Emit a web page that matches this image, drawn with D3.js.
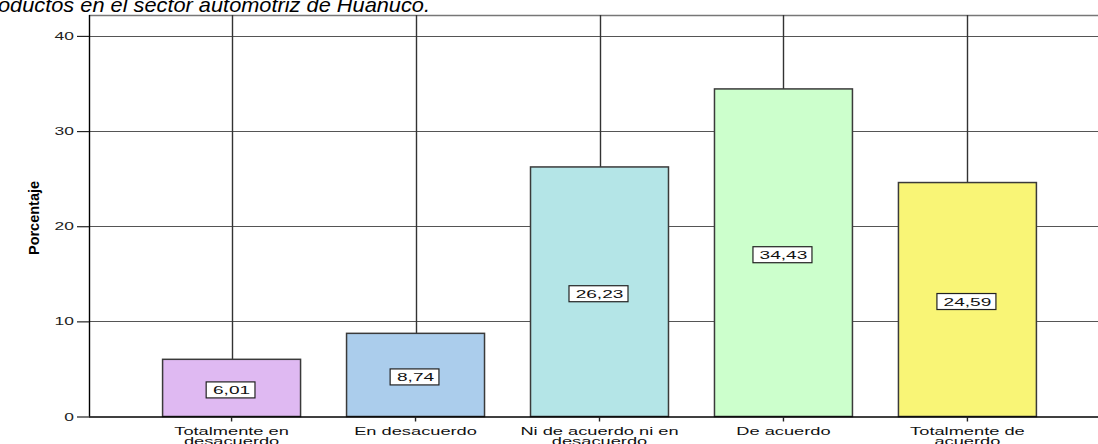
<!DOCTYPE html>
<html>
<head>
<meta charset="utf-8">
<script src="https://cdn.jsdelivr.net/npm/d3@7"></script>
<style>
  html, body { margin: 0; padding: 0; background: #fff; }
  svg { display: block; }
  text { font-family: "Liberation Sans", Arial, sans-serif; }
</style>
</head>
<body>
<svg id="chart" width="1098" height="444"></svg>
<script>
// Response categories (two-line labels) and percentages
const categories = [
  ["Totalmente en", "desacuerdo"],
  ["En desacuerdo"],
  ["Ni de acuerdo ni en", "desacuerdo"],
  ["De acuerdo"],
  ["Totalmente de", "acuerdo"]
];
const percentages = [6.01, 8.74, 26.23, 34.43, 24.59];
const valueLabels = ["6,01", "8,74", "26,23", "34,43", "24,59"];
const barColors = ["#dfb9f2", "#abcdec", "#b4e5e7", "#ccffcc", "#f9f576"];
const yTicks = [0, 10, 20, 30, 40];
const yTitle = "Porcentaje";
const caption = "oductos en el sector automotriz de Huánuco.";

const svg = d3.select("#chart");
const W = 1098, H = 444;
const plotLeft = 89, plotTop = 15, plotBottom = 416.5, plotRight = 1110;
const SX = 1.66; // horizontal stretch of the chart's lettering

const keys = categories.map((c, i) => i);
const x = d3.scaleBand().domain(keys).range([plotLeft, plotRight])
  .paddingInner(0.25).paddingOuter(0.4);
const y = d3.scaleLinear().domain([0, 42.2]).range([plotBottom, plotTop]);

// caption line above the plot
svg.append("text")
  .attr("x", -2).attr("y", 12)
  .attr("font-size", 21).attr("font-style", "italic")
  .attr("fill", "#000")
  .attr("textLength", 432).attr("lengthAdjust", "spacingAndGlyphs")
  .text(caption);

const plot = svg.append("g");

// horizontal gridlines
plot.selectAll("line.hgrid").data(yTicks.filter(t => t > 0)).join("line")
  .attr("class", "hgrid")
  .attr("x1", plotLeft).attr("x2", W)
  .attr("y1", d => Math.round(y(d)) + 0.5).attr("y2", d => Math.round(y(d)) + 0.5)
  .attr("stroke", "#555").attr("stroke-width", 1.2);

// top frame line
plot.append("line")
  .attr("x1", plotLeft).attr("x2", W)
  .attr("y1", plotTop + 0.5).attr("y2", plotTop + 0.5)
  .attr("stroke", "#777").attr("stroke-width", 1.4);

// vertical gridlines at category centres
plot.selectAll("line.vgrid").data(keys).join("line")
  .attr("class", "vgrid")
  .attr("x1", d => Math.round(x(d) + x.bandwidth() / 2) + 0.5)
  .attr("x2", d => Math.round(x(d) + x.bandwidth() / 2) + 0.5)
  .attr("y1", plotTop).attr("y2", plotBottom)
  .attr("stroke", "#333").attr("stroke-width", 1.4);

// bars
plot.selectAll("rect.bar").data(keys).join("rect")
  .attr("class", "bar")
  .attr("x", d => x(d))
  .attr("y", d => y(percentages[d]))
  .attr("width", x.bandwidth())
  .attr("height", d => plotBottom - y(percentages[d]))
  .attr("fill", d => barColors[d])
  .attr("stroke", "#3a3a3a").attr("stroke-width", 1.5);

// axes
const xAxisG = svg.append("g").attr("transform", `translate(0,${plotBottom})`)
  .call(d3.axisBottom(x).tickSize(5).tickFormat(""));
xAxisG.select(".domain").attr("d", `M${plotLeft},0.5H${W}`).attr("stroke", "#000").attr("stroke-width", 1.4);
xAxisG.selectAll(".tick line").attr("stroke", "#222").attr("stroke-width", 1.4);

const yAxisG = svg.append("g").attr("transform", `translate(${plotLeft},0)`)
  .call(d3.axisLeft(y).tickValues(yTicks).tickSize(12).tickFormat(""));
yAxisG.select(".domain").attr("d", `M0.5,${plotTop}V${plotBottom}`).attr("stroke", "#000").attr("stroke-width", 1.4);
yAxisG.selectAll(".tick line").attr("stroke", "#222").attr("stroke-width", 1.2);

// y tick labels (stretched lettering)
svg.selectAll("text.ytl").data(yTicks).join("text")
  .attr("class", "ytl")
  .attr("transform", d => `translate(74,${y(d) + 4}) scale(${SX},1)`)
  .attr("text-anchor", "end")
  .attr("font-size", 10.5).attr("fill", "#222")
  .text(d => d);

// x category labels
const xl = svg.selectAll("g.xl").data(keys).join("g")
  .attr("class", "xl")
  .attr("transform", d => `translate(${x(d) + x.bandwidth() / 2},435) scale(${SX},1)`);
xl.selectAll("text").data(d => categories[d].map((s, j) => ({ s, j }))).join("text")
  .attr("text-anchor", "middle")
  .attr("y", d => d.j * 10.5)
  .attr("font-size", 11).attr("fill", "#111")
  .text(d => d.s);

// y axis title
svg.append("text")
  .attr("transform", `translate(39,218) rotate(-90)`)
  .attr("text-anchor", "middle")
  .attr("font-family", "'Liberation Sans Narrow', 'Arial Narrow', sans-serif")
  .attr("font-weight", "bold").attr("font-size", 15)
  .attr("textLength", 74).attr("lengthAdjust", "spacingAndGlyphs")
  .text(yTitle);

// value boxes at mid-height of each bar
const vl = svg.selectAll("g.vl").data(keys).join("g")
  .attr("class", "vl")
  .attr("transform", d => `translate(${x(d) + x.bandwidth() / 2},${y(percentages[d] / 2) + 2})`);
vl.append("rect")
  .attr("x", d => -(valueLabels[d].length * 10.2 + 8) / 2 - 1)
  .attr("y", -8)
  .attr("width", d => valueLabels[d].length * 10.2 + 8)
  .attr("height", 16)
  .attr("fill", "#fff").attr("stroke", "#222").attr("stroke-width", 1.2);
vl.append("text")
  .attr("transform", `scale(${SX},1)`)
  .attr("text-anchor", "middle")
  .attr("y", 4.5)
  .attr("font-size", 11.5).attr("fill", "#111")
  .text(d => valueLabels[d]);
</script>
</body>
</html>
